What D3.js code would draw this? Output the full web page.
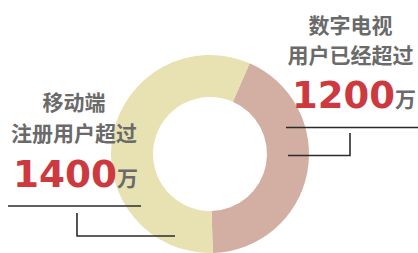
<!DOCTYPE html>
<html>
<head>
<meta charset="utf-8">
<script src="https://cdn.jsdelivr.net/npm/d3@7"></script>
<style>
  html, body { margin: 0; padding: 0; background: #fff; }
  #chart-container { width: 418px; height: 253px; }
</style>
</head>
<body>
<div id="chart-container"></div>
<script>
// slices, clockwise from the upper right
const segmentNames = ["数字电视用户", "移动端注册用户"];
const sliceShares = [43, 57];          // share of the ring as drawn (%)
const labelValues = [1200, 1400];      // 万
const labelLine1 = ["数字电视", "移动端"];
const labelLine2 = ["用户已经超过", "注册用户超过"];
const sliceColors = ["#d3afa3", "#e8e1b2"];

function renderChart() {
    d3.select("#chart-container svg").remove();

    const width = 418, height = 253;
    const cx = 210, cy = 154;
    const outerR = 99, innerR = 57;

    const svg = d3.select("#chart-container")
        .append("svg")
        .attr("width", width)
        .attr("height", height);

    // ring starts at about 24 degrees past twelve o'clock
    const start = 23.6 * Math.PI / 180;
    const pie = d3.pie()
        .sort(null)
        .value(d => d)
        .startAngle(start)
        .endAngle(start + 2 * Math.PI);

    const arc = d3.arc()
        .innerRadius(innerR)
        .outerRadius(outerR);

    svg.append("g")
        .attr("transform", `translate(${cx},${cy})`)
        .selectAll("path")
        .data(pie(sliceShares))
        .join("path")
        .attr("d", arc)
        .attr("fill", (d, i) => sliceColors[i]);

    // label blocks: [centre x, first baseline, value baseline, value left, value width]
    const blocks = [
        { x: 350.5, y1: 33, y2: 63, vy: 108, vx: 292, vw: 103, wanX: 395 },
        { x: 74, y1: 110, y2: 141, vy: 187, vx: 13, vw: 104, wanX: 117 }
    ];

    const gray = "#6a6a6a";
    const red = "#cc3a40";
    const cjk = "'Noto Sans CJK SC', 'Noto Sans', sans-serif";

    blocks.forEach((b, i) => {
        const g = svg.append("g").attr("class", "label");

        g.append("text")
            .attr("x", b.x)
            .attr("y", b.y1)
            .attr("text-anchor", "middle")
            .style("font-family", cjk)
            .style("font-weight", "bold")
            .style("font-size", "21px")
            .attr("fill", gray)
            .text(labelLine1[i]);

        g.append("text")
            .attr("x", b.x)
            .attr("y", b.y2)
            .attr("text-anchor", "middle")
            .style("font-family", cjk)
            .style("font-weight", "bold")
            .style("font-size", "21px")
            .attr("fill", gray)
            .text(labelLine2[i]);

        g.append("text")
            .attr("x", b.vx)
            .attr("y", b.vy)
            .style("font-family", "'DejaVu Sans', sans-serif")
            .style("font-weight", "bold")
            .style("font-size", "37px")
            .attr("textLength", b.vw)
            .attr("lengthAdjust", "spacingAndGlyphs")
            .attr("fill", red)
            .text(labelValues[i]);

        g.append("text")
            .attr("x", b.wanX)
            .attr("y", b.vy - 1)
            .style("font-family", cjk)
            .style("font-weight", "bold")
            .style("font-size", "21px")
            .attr("fill", gray)
            .text("万");
    });

    // leader lines
    const lineColor = "#2b2b2b";
    const leaders = [
        [[286, 127.5], [418, 127.5]],
        [[288, 155.5], [350, 155.5], [350, 133]],
        [[8, 206], [141, 206]],
        [[77, 213], [77, 236], [175, 236]]
    ];
    const lineGen = d3.line();
    svg.append("g")
        .selectAll("path")
        .data(leaders)
        .join("path")
        .attr("d", lineGen)
        .attr("fill", "none")
        .attr("stroke", lineColor)
        .attr("stroke-width", 1.6);
}

renderChart();
</script>
</body>
</html>
